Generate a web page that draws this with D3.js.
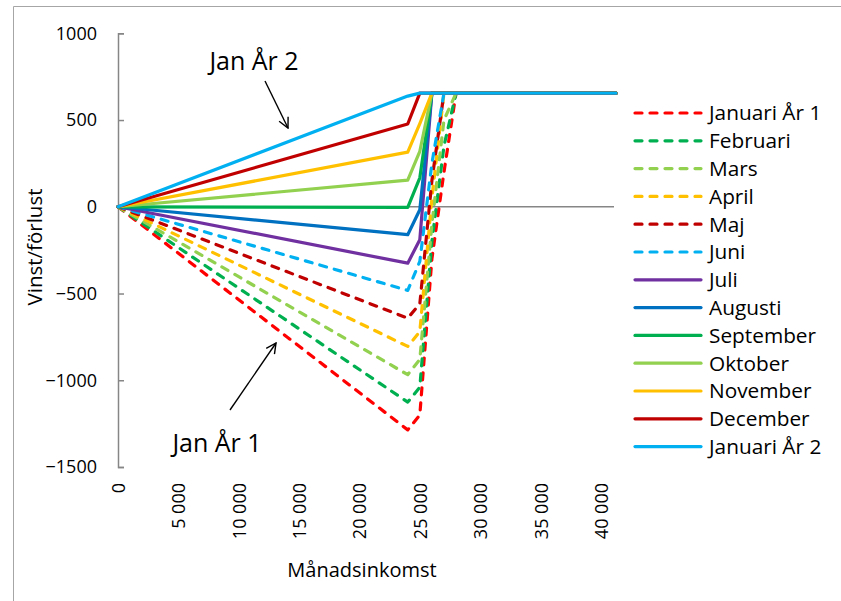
<!DOCTYPE html>
<html>
<head>
<meta charset="utf-8">
<script src="https://cdn.jsdelivr.net/npm/d3@7"></script>
<style>
  html, body { margin: 0; padding: 0; background: #fff; }
  svg { display: block; font-family: "Open Sans", "Noto Sans", sans-serif; }
</style>
</head>
<body>
<svg id="chart" width="841" height="601"></svg>
<script>
// Monthly income (kr) at which each curve is sampled
const incomes = [0, 24000, 25000, 26000, 27000, 28000, 41250];

// Gain/loss per starting month
const januariAr1 = [0, -1286, -1200, -300, 200, 655, 655];
const februari   = [0, -1126, -1040, -200, 350, 655, 655];
const mars       = [0, -968, -880, -100, 500, 655, 655];
const april      = [0, -805, -720, 50, 655, 655, 655];
const maj        = [0, -642, -560, 150, 655, 655, 655];
const juni       = [0, -482, -315, 250, 655, 655, 655];
const juli       = [0, -325, -190, 655, 655, 655, 655];
const augusti    = [0, -161, -17, 655, 655, 655, 655];
const september  = [0, -4, 167, 655, 655, 655, 655];
const oktober    = [0, 154, 320, 655, 655, 655, 655];
const november   = [0, 315, 480, 655, 655, 655, 655];
const december   = [0, 477, 655, 655, 655, 655, 655];
const januariAr2 = [0, 638, 655, 655, 655, 655, 655];

const seriesNames = ["Januari År 1", "Februari", "Mars", "April", "Maj", "Juni",
  "Juli", "Augusti", "September", "Oktober", "November", "December", "Januari År 2"];
const seriesValues = [januariAr1, februari, mars, april, maj, juni,
  juli, augusti, september, oktober, november, december, januariAr2];
const seriesColors = ["#FF0000", "#00B050", "#92D050", "#FFC000", "#C00000", "#00B0F0",
  "#7030A0", "#0070C0", "#00B050", "#92D050", "#FFC000", "#C00000", "#00B0F0"];
const seriesDashed = [true, true, true, true, true, true,
  false, false, false, false, false, false, false];

const xTicks = [0, 5000, 10000, 15000, 20000, 25000, 30000, 35000, 40000];
const yTicks = [1000, 500, 0, -500, -1000, -1500];

const svg = d3.select("#chart");

// Outer chart frame (top and left edges)
svg.append("path")
  .attr("d", "M13.5,601 V6.5 H841")
  .attr("fill", "none")
  .attr("stroke", "#a6a6a6")
  .attr("stroke-width", 1);

const x = d3.scaleLinear().domain([0, 41250]).range([118, 616]);
const y = d3.scaleLinear().domain([-1500, 1000]).range([467, 33.3]);

const sv = d3.formatLocale({ decimal: ",", thousands: "\u00a0", grouping: [3], currency: ["", " kr"] });
const fmtX = sv.format(",");

// Vertical axis with inward ticks
const yAxis = d3.axisLeft(y)
  .tickValues(yTicks)
  .tickSizeInner(-6)
  .tickSizeOuter(-6)
  .tickPadding(21)
  .tickFormat(d3.format("d"));

const gy = svg.append("g")
  .attr("transform", `translate(${x(0)},0)`)
  .call(yAxis);
gy.select(".domain").attr("stroke", "#868686").attr("stroke-width", 1.5);
gy.selectAll(".tick line").attr("stroke", "#868686").attr("stroke-width", 1.5);
gy.selectAll(".tick text")
  .attr("font-family", "Open Sans")
  .attr("font-size", 18)
  .attr("fill", "#000");

// Zero line across the plot
svg.append("line")
  .attr("x1", x(0)).attr("x2", 614)
  .attr("y1", y(0)).attr("y2", y(0))
  .attr("stroke", "#868686")
  .attr("stroke-width", 1.5);

// Horizontal axis labels placed low, rotated
const xAxis = d3.axisBottom(x)
  .tickValues(xTicks)
  .tickSize(0)
  .tickFormat(d => fmtX(d));

const gx = svg.append("g")
  .attr("transform", "translate(0,483)")
  .call(xAxis);
gx.select(".domain").remove();
gx.selectAll(".tick text")
  .attr("font-family", "Open Sans")
  .attr("font-size", 18)
  .attr("fill", "#000")
  .attr("x", 0)
  .attr("y", 0)
  .attr("dy", "0.36em")
  .attr("text-anchor", "end")
  .attr("transform", "rotate(-90)");

// Series lines
const line = d3.line()
  .x((d, i) => x(incomes[i]))
  .y(d => y(d));

seriesValues.forEach((vals, k) => {
  svg.append("path")
    .datum(vals)
    .attr("d", line)
    .attr("fill", "none")
    .attr("stroke", seriesColors[k])
    .attr("stroke-width", 3.2)
    .attr("stroke-linejoin", "round")
    .attr("stroke-linecap", "round")
    .attr("stroke-dasharray", seriesDashed[k] ? "7,8" : null);
});

// Axis titles
svg.append("text")
  .attr("x", 362).attr("y", 577)
  .attr("text-anchor", "middle")
  .attr("font-size", 20)
  .text("Månadsinkomst");

svg.append("text")
  .attr("transform", "translate(42,247) rotate(-90)")
  .attr("text-anchor", "middle")
  .attr("font-size", 20.5)
  .text("Vinst/förlust");

// Legend
const legend = svg.append("g");
seriesNames.forEach((name, k) => {
  const ly = 113 + k * 27.8;
  legend.append("line")
    .attr("x1", 635).attr("x2", 701)
    .attr("y1", ly).attr("y2", ly)
    .attr("stroke", seriesColors[k])
    .attr("stroke-width", 3.2)
    .attr("stroke-linecap", "round")
    .attr("stroke-dasharray", seriesDashed[k] ? "7,8" : null);
  legend.append("text")
    .attr("x", 709).attr("y", ly)
    .attr("dy", "0.36em")
    .attr("font-size", 20.8)
    .text(name);
});

// Annotations with open arrowheads
const defs = svg.append("defs");
defs.append("marker")
  .attr("id", "openArrow")
  .attr("viewBox", "0 0 12 12")
  .attr("refX", 11).attr("refY", 6)
  .attr("markerWidth", 12).attr("markerHeight", 12)
  .attr("markerUnits", "userSpaceOnUse")
  .attr("orient", "auto")
  .append("path")
  .attr("d", "M1,1 L11,6 L1,11")
  .attr("fill", "none")
  .attr("stroke", "#000")
  .attr("stroke-width", 1.4);

svg.append("text")
  .attr("x", 254).attr("y", 70)
  .attr("text-anchor", "middle")
  .attr("font-size", 25)
  .text("Jan År 2");
svg.append("line")
  .attr("x1", 265).attr("y1", 81)
  .attr("x2", 288).attr("y2", 128)
  .attr("stroke", "#000").attr("stroke-width", 1.4)
  .attr("marker-end", "url(#openArrow)");

svg.append("text")
  .attr("x", 217).attr("y", 452)
  .attr("text-anchor", "middle")
  .attr("font-size", 25)
  .text("Jan År 1");
svg.append("line")
  .attr("x1", 230).attr("y1", 410)
  .attr("x2", 276).attr("y2", 343)
  .attr("stroke", "#000").attr("stroke-width", 1.4)
  .attr("marker-end", "url(#openArrow)");
</script>
</body>
</html>
